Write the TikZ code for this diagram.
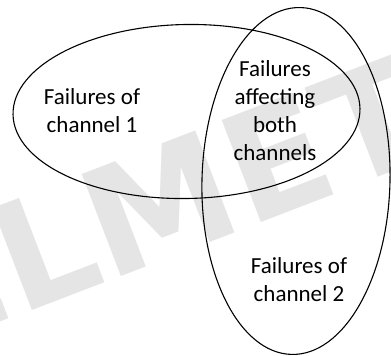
\documentclass[tikz,border=0pt]{standalone}
\usepackage{fontspec}
\setmainfont{Carlito}
\newfontfamily\wmfont{DejaVu Sans}
\begin{document}
\begin{tikzpicture}[x=1pt,y=-1pt,
  setline/.style={draw=black,line width=1.1pt},
  lbl/.style={align=center,inner sep=0pt,font=\fontsize{23}{28}\selectfont},
  wm/.style={text=black!10,font=\wmfont\bfseries\fontsize{150}{150}\selectfont,inner sep=0pt}]
\useasboundingbox (0,0) rectangle (391,356);
\begin{scope}
\clip (0,0) rectangle (391,356);
\node[wm,rotate=21] (wmark) at (162,202) {ELMET};
\end{scope}
\coordinate (e1) at (186.5,111.5);
\coordinate (e2) at (296,181);
\draw[setline,rotate around={1:(e1)}] (e1) ellipse [x radius=173.5,y radius=87];
\draw[setline,rotate around={-1.5:(e2)}] (e2) ellipse [x radius=94,y radius=173.5];
\node[lbl] (c1) at (92,111) {Failures of\\channel 1};
\node[lbl] (both) at (275,110.5) {Failures\\affecting\\both\\channels};
\node[lbl] (c2) at (299,279.5) {Failures of\\channel 2};
\end{tikzpicture}
\end{document}
